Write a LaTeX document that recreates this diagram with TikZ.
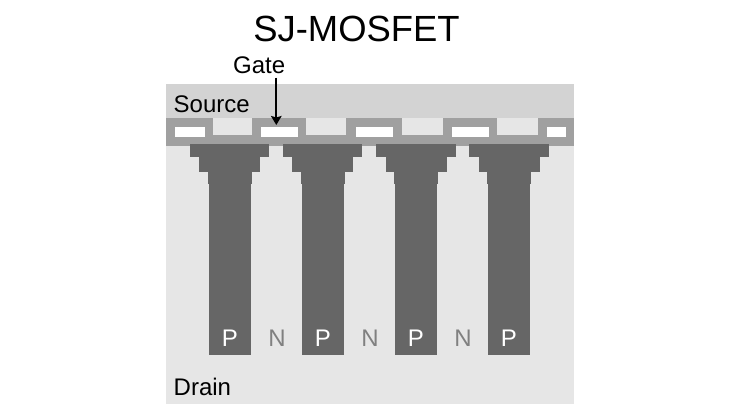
\documentclass[tikz,border=0pt]{standalone}
\usepackage{fontspec}
\setmainfont{Liberation Sans}
\usetikzlibrary{arrows.meta}
\definecolor{drainfill}{HTML}{E6E6E6}
\definecolor{sourcefill}{HTML}{D3D3D3}
\definecolor{layerfill}{HTML}{A0A0A0}
\definecolor{pillarfill}{HTML}{666666}
\definecolor{nlabel}{HTML}{808080}
\tikzset{>={Stealth[length=9pt,width=10.5pt,inset=1.5pt]},
  label text/.style={font=\fontsize{24}{28}\selectfont, inner sep=0pt},
  region text/.style={label text, anchor=base west},
  p text/.style={label text, text=white},
  n text/.style={label text, text=nlabel},
}

\begin{document}
\begin{tikzpicture}[x=1pt, y=-1pt]
    \useasboundingbox (0,0) rectangle (740,416);

    % regions
    \fill[drainfill] (166,84) rectangle (574,404);
    \fill[sourcefill] (166,84) rectangle (574,118);
    \fill[layerfill] (166,118) rectangle (574,146);

    % cells between the gates
    \foreach \x/\w in {213/39, 306/40, 402/41, 497/41}
        \fill[drainfill] (\x,118) rectangle ++(\w,16.5);

    % gates
    \foreach \x/\w in {174.5/30.5, 260.5/37.5, 356/37, 451.5/37, 546.5/19.5}
        \fill[white] (\x,126.7) rectangle ++(\w,10);

    % pillars
    \foreach \d in {0, 93.1, 186.5, 279.6} {
        \fill[pillarfill] (189.7+\d,144) rectangle (269+\d,157);
        \fill[pillarfill] (199.3+\d,157) rectangle (260+\d,171.5);
        \fill[pillarfill] (207.7+\d,171.5) rectangle (251.7+\d,184);
        \fill[pillarfill] (208.7+\d,184) rectangle (250.5+\d,355);
    }

    \node[p text] (p1) at (230,338.5) {P};
    \node[n text] (n1) at (277,338.5) {N};
    \node[p text] (p2) at (323,338.5) {P};
    \node[n text] (n2) at (370,338.5) {N};
    \node[p text] (p3) at (416,338.5) {P};
    \node[n text] (n3) at (463,338.5) {N};
    \node[p text] (p4) at (509,338.5) {P};

    \node[region text] (source) at (173.5,112.5) {Source};
    \node[region text] (drain) at (173.5,395.5) {Drain};
    \node[region text] (gate) at (233,73.5) {Gate};
    \node[label text, font=\fontsize{36.4}{42}\selectfont] (title) at (356.5,29) {SJ-MOSFET};

    \coordinate (gatetail) at (276.3,77.7);
    \coordinate (gatetip) at (276.3,125);
    \draw[->, line width=2pt] (gatetail) -- (gatetip);
\end{tikzpicture}
\end{document}
